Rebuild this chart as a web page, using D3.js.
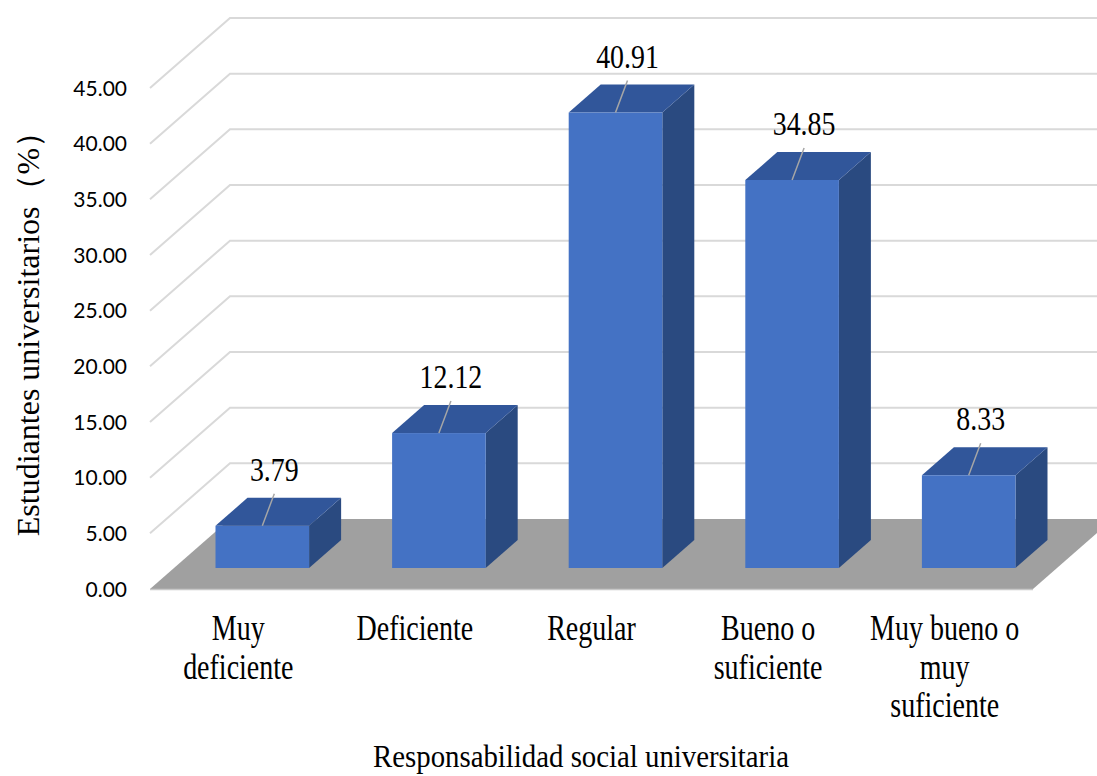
<!DOCTYPE html>
<html>
<head>
<meta charset="utf-8">
<script src="https://cdn.jsdelivr.net/npm/d3@7"></script>
<style>
  html, body { margin: 0; padding: 0; background: #fff; }
  svg { display: block; }
</style>
</head>
<body>
<svg id="chart" width="1097" height="776"></svg>
<script>
const categories = [
  ["Muy", "deficiente"],
  ["Deficiente"],
  ["Regular"],
  ["Bueno o", "suficiente"],
  ["Muy bueno o", "muy", "suficiente"]
];
const values = [3.79, 12.12, 40.91, 34.85, 8.33];
const valueLabels = ["3.79", "12.12", "40.91", "34.85", "8.33"];
const yTicks = [0, 5, 10, 15, 20, 25, 30, 35, 40, 45];
const yTitle = "Estudiantes universitarios（%）";
const xTitle = "Responsabilidad social universitaria";

const svg = d3.select("#chart");
const keys = categories.map((c, i) => i);

// front plane scales
const x = d3.scaleBand().domain(keys).range([150, 1033]).paddingInner(0.47).paddingOuter(0.235);
const xCat = d3.scaleBand().domain(keys).range([150, 1033]);
const y = d3.scaleLinear().domain([0, 45]).range([589, 88]);
// depth vector (full floor depth)
const DX = 80, DY = -70;
const d0 = 0.3, d1 = 0.7;

// gridlines (side wall diagonal + back wall horizontal)
const grid = svg.append("g");
yTicks.filter(t => t > 0).forEach(t => {
  const yf = y(t);
  grid.append("path")
    .attr("d", `M${150},${yf} L${150 + DX},${yf + DY} L1097,${yf + DY}`)
    .attr("fill", "none").attr("stroke", "#d9d9d9").attr("stroke-width", 2);
});

// floor
const y0 = y(0);
svg.append("path")
  .attr("d", `M150,${y0} L1033,${y0} L${1033 + DX},${y0 + DY} L${150 + DX},${y0 + DY} Z`)
  .attr("fill", "#a0a0a0");
svg.append("line").attr("x1", 150).attr("x2", 1033).attr("y1", y0 + 0.5).attr("y2", y0 + 0.5)
  .attr("stroke", "#c8c8c8").attr("stroke-width", 1.5);

// y tick labels
svg.append("g").selectAll("text").data(yTicks).join("text")
  .attr("x", 127).attr("y", d => y(d)).attr("dy", "0.36em")
  .attr("text-anchor", "end")
  .attr("font-family", "Lato, 'Liberation Sans', sans-serif")
  .attr("font-size", 21).attr("fill", "#000")
  .text(d => d.toFixed(2));

// bars
const bars = svg.append("g");
values.forEach((v, i) => {
  const bx0 = x(i) + DX * d0;
  const bx1 = bx0 + x.bandwidth();
  const yb = y(0) + DY * d0;
  const yt = y(v) + DY * d0;
  const dx = DX * (d1 - d0), dy = DY * (d1 - d0);
  const g = bars.append("g");
  g.append("path").attr("d", `M${bx1},${yb} L${bx1},${yt} L${bx1 + dx},${yt + dy} L${bx1 + dx},${yb + dy} Z`)
    .attr("fill", "#2a4a80");
  g.append("path").attr("d", `M${bx0},${yt} L${bx1},${yt} L${bx1 + dx},${yt + dy} L${bx0 + dx},${yt + dy} Z`)
    .attr("fill", "#31569a");
  g.append("rect").attr("x", bx0).attr("y", yt).attr("width", bx1 - bx0).attr("height", yb - yt)
    .attr("fill", "#4472c4");
  const cx = (bx0 + bx1) / 2;
  g.append("line").attr("x1", cx).attr("y1", yt).attr("x2", cx + 12).attr("y2", yt - 32)
    .attr("stroke", "#a6a6a6").attr("stroke-width", 1.5);
  g.append("text")
    .attr("transform", `translate(${cx + 12},${yt - 45}) scale(0.82,1)`)
    .attr("text-anchor", "middle")
    .attr("font-family", "'Liberation Serif', 'Times New Roman', serif")
    .attr("font-size", 34).attr("fill", "#000")
    .text(valueLabels[i]);
});

// category labels
categories.forEach((lines, i) => {
  const cx = xCat(i) + xCat.bandwidth() / 2;
  lines.forEach((ln, j) => {
    svg.append("text")
      .attr("transform", `translate(${cx},${640 + j * 38.5}) scale(0.8,1)`)
      .attr("text-anchor", "middle")
      .attr("font-family", "'Liberation Serif', 'Times New Roman', serif")
      .attr("font-size", 35).attr("fill", "#000")
      .text(ln);
  });
});

// axis titles
svg.append("text")
  .attr("transform", `translate(581,767) scale(0.9,1)`)
  .attr("text-anchor", "middle")
  .attr("font-family", "'Liberation Serif', 'Times New Roman', serif")
  .attr("font-size", 32).attr("fill", "#000")
  .text(xTitle);

svg.append("text")
  .attr("transform", `translate(39,326) rotate(-90)`)
  .attr("text-anchor", "middle")
  .attr("font-family", "'Liberation Serif', 'Times New Roman', serif")
  .attr("font-size", 32).attr("fill", "#000")
  .text(yTitle);
</script>
</body>
</html>
